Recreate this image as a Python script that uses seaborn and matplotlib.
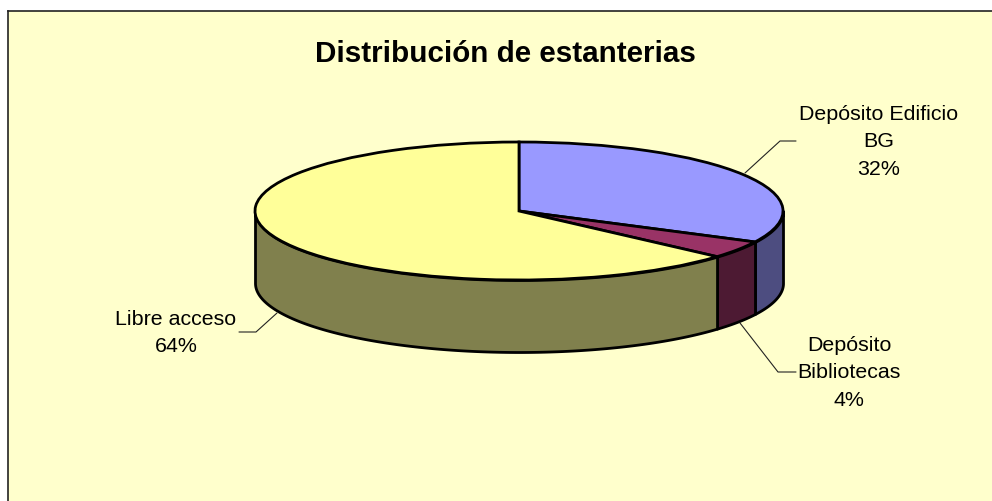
import numpy as np
import matplotlib
matplotlib.use('Agg')
import matplotlib.pyplot as plt
import seaborn as sns

title = 'Distribución de estanterias'
categories = ['Depósito Edificio\nBG', 'Depósito\nBibliotecas', 'Libre acceso']
values = [32.4, 4.1, 63.5]
top_colors = ['#9999FF', '#993366', '#FFFF99']
side_colors = ['#4D4D80', '#4D1A33', '#80804D']

W, H = 992, 501
CX, CY = 519, 211      # pie centre, pixels from top left
RX, RY = 264, 69       # ellipse radii
DEPTH = 72 / RY        # wall height in data units
LEFT, TOP = 8, 11      # panel corner

# label centre and leader line for each slice, pixels from top left
label_pos = [(879, 142), (849, 373), (176, 333)]
leaders = [
    [(745, 173), (780, 141), (796, 141)],
    [(740, 323), (778, 372), (796, 372)],
    [(277, 313), (256, 332), (239, 332)],
]


def fx(px):
    return px / W


def fy(py):
    return 1 - py / H


def draw_chart():
    sns.set_theme(style='white', font='Liberation Sans')
    fig = plt.figure(figsize=(W / 100, H / 100), dpi=100, facecolor='white')
    ax = fig.add_axes([fx(LEFT), 0, fx(W - LEFT), fy(TOP)])

    # side walls, only the front half of each slice shows
    edges = 90 - np.concatenate([[0], np.cumsum(values)]) * 3.6
    for i, color in enumerate(side_colors):
        start = min(edges[i], 0)
        end = max(edges[i + 1], -180)
        if start <= end:
            continue
        t = np.radians(np.linspace(start, end, 200))
        ax.fill_between(np.cos(t), np.sin(t), np.sin(t) - DEPTH,
                        facecolor=color, edgecolor='black', linewidth=2.0)

    # top face
    ax.pie(values, colors=top_colors, startangle=90, counterclock=False,
           wedgeprops={'edgecolor': 'black', 'linewidth': 2.0})
    ax.set_aspect('auto')
    ax.set_xlim((LEFT - CX) / RX, (W - CX) / RX)
    ax.set_ylim((CY - H) / RY, (CY - TOP) / RY)

    ax.set_frame_on(True)
    ax.set_facecolor('#FFFFCC')
    for side in ['right', 'bottom']:
        ax.spines[side].set_visible(False)
    for side in ['left', 'top']:
        ax.spines[side].set_visible(True)
        ax.spines[side].set_color('#222222')
        ax.spines[side].set_linewidth(1.2)

    for name, val, pos, line in zip(categories, values, label_pos, leaders):
        xs = [fx(p[0]) for p in line]
        ys = [fy(p[1]) for p in line]
        ax.plot(xs, ys, color='#222222', linewidth=0.8, transform=fig.transFigure,
                clip_on=False)
        fig.text(fx(pos[0]), fy(pos[1]), f'{name}\n{val:.0f}%', ha='center', va='center',
                 fontsize=15.4, color='black', linespacing=1.59)

    fig.text(fx(505), fy(54.5), title, ha='center', va='center', fontsize=21.3,
             fontweight='bold', color='black')

    fig.savefig('out.png', dpi=100)
    plt.close(fig)


if __name__ == '__main__':
    draw_chart()
